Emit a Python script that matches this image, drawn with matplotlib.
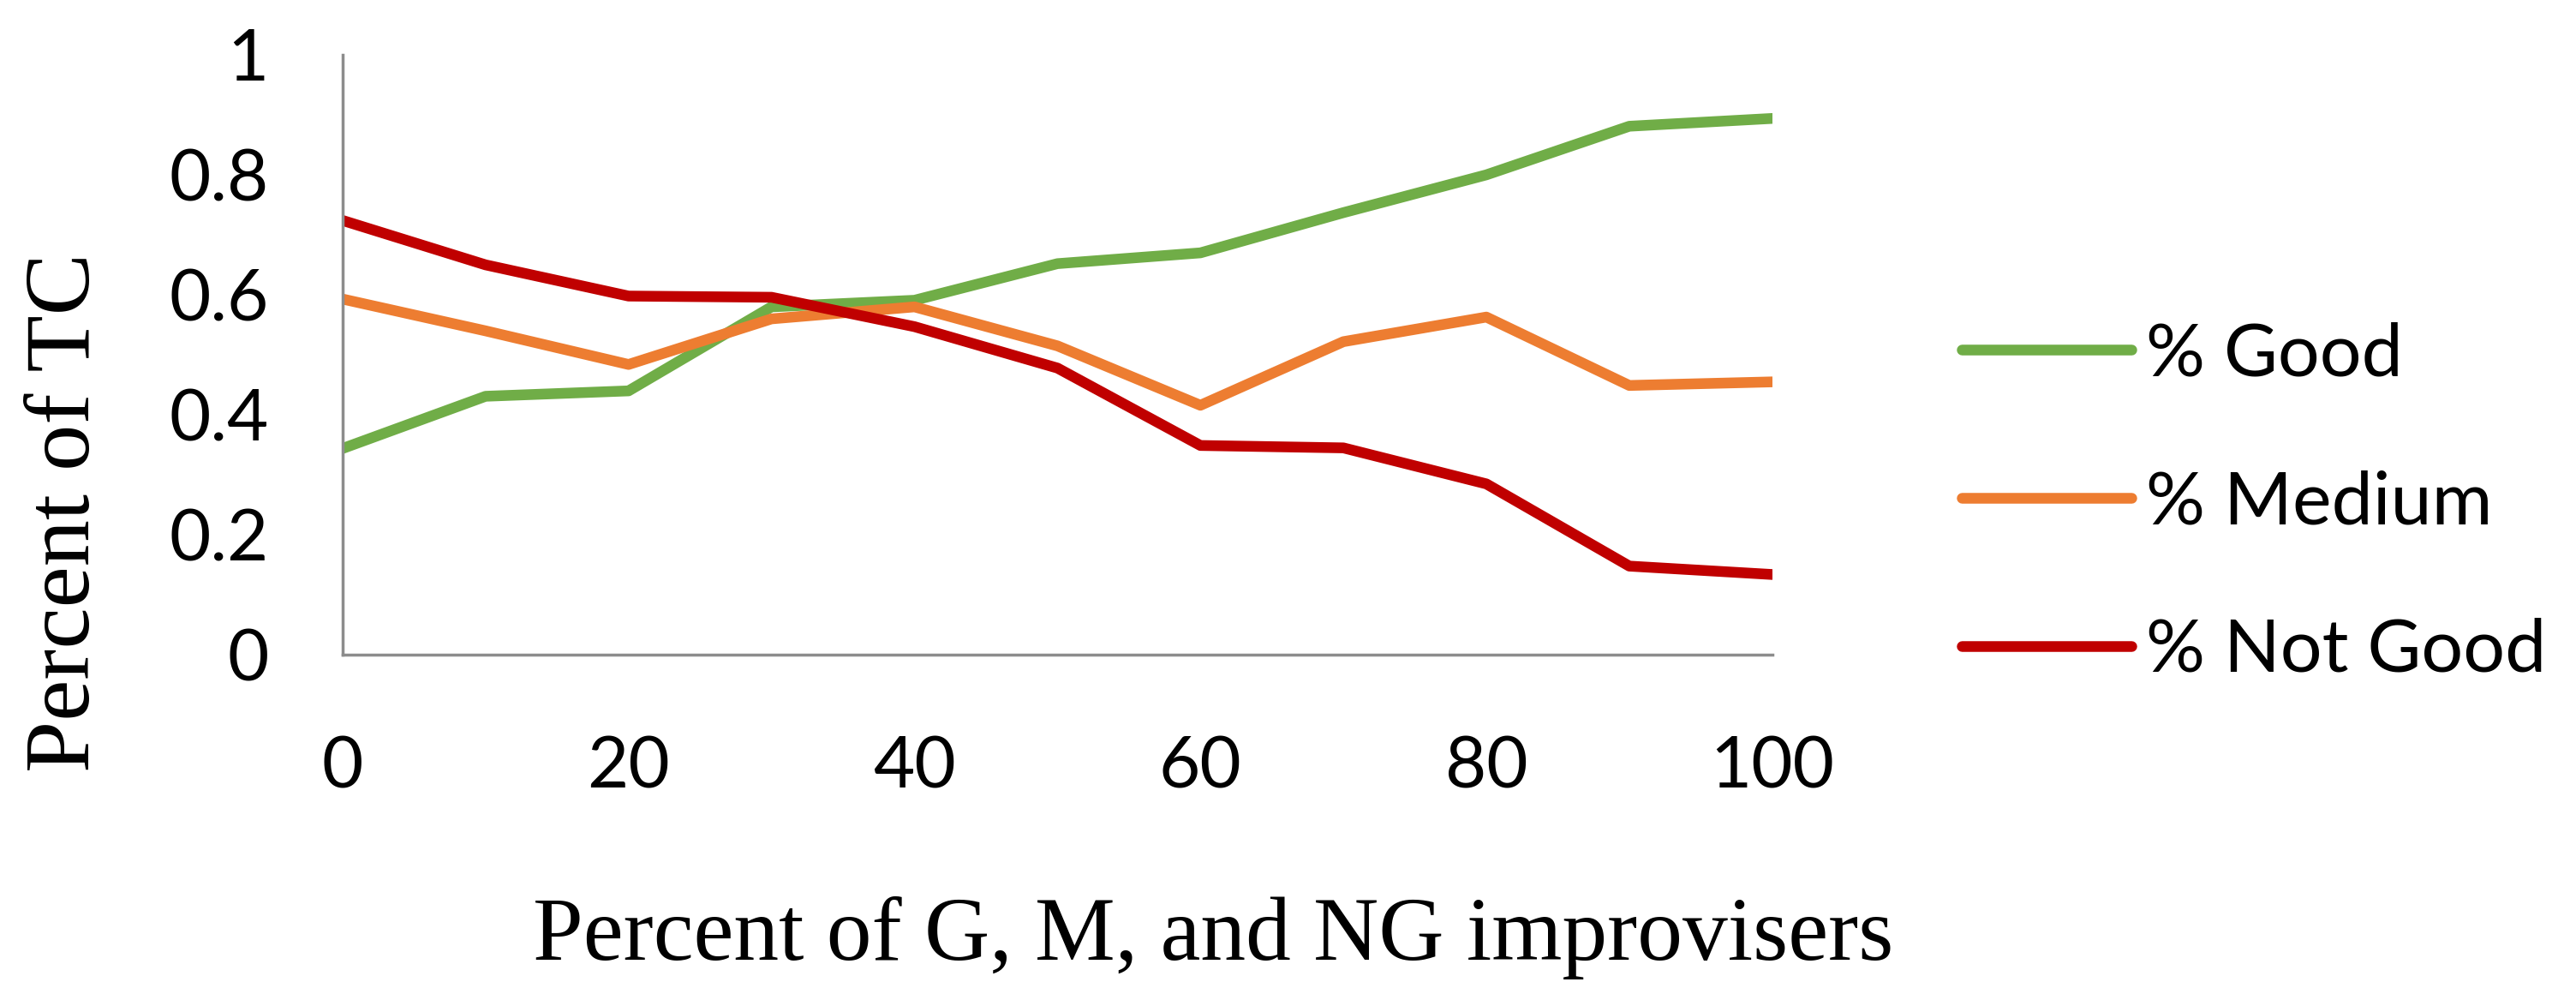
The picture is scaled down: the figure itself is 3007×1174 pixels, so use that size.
# Percent of TC vs percent of G, M and NG improvisers
import matplotlib
matplotlib.use('Agg')
import matplotlib.pyplot as plt

# data
pct_improvisers = [0, 10, 20, 30, 40, 50, 60, 70, 80, 90, 100]
good = [0.344, 0.431, 0.440, 0.580, 0.591, 0.652, 0.670, 0.737, 0.800, 0.881, 0.894]
medium = [0.593, 0.540, 0.484, 0.560, 0.580, 0.515, 0.416, 0.522, 0.563, 0.449, 0.455]
not_good = [0.724, 0.650, 0.598, 0.596, 0.547, 0.478, 0.349, 0.345, 0.285, 0.148, 0.134]

labels = ['% Good', '% Medium', '% Not Good']
colors = ['#70AD47', '#ED7D31', '#C00000']
x_ticks = [0, 20, 40, 60, 80, 100]
y_ticks = [0, 0.2, 0.4, 0.6, 0.8, 1]
y_tick_labels = ['0', '0.2', '0.4', '0.6', '0.8', '1']

sans = ['Lato', 'DejaVu Sans']
serif = ['Liberation Serif', 'DejaVu Serif']

fig = plt.figure(figsize=(30.07, 11.74), dpi=100)
ax = fig.add_axes([0.133, 0.349, 0.555, 0.5965])

for series, lab, col in zip([good, medium, not_good], labels, colors):
    ax.plot(pct_improvisers, series, color=col, linewidth=9, label=lab,
            solid_capstyle='round', solid_joinstyle='round')

ax.set_xlim(0, 100)
ax.set_ylim(0, 1)
ax.set_xticks(x_ticks)
ax.set_yticks(y_ticks)
ax.set_yticklabels(y_tick_labels)

for side in ['top', 'right']:
    ax.spines[side].set_visible(False)
for side in ['left', 'bottom']:
    ax.spines[side].set_color('#8c8c8c')
    ax.spines[side].set_linewidth(2.5)

ax.tick_params(axis='both', length=0, labelsize=60)
ax.tick_params(axis='y', pad=62)
ax.tick_params(axis='x', pad=68)
for t in ax.get_xticklabels() + ax.get_yticklabels():
    t.set_family(sans)

fig.text(0.471, 0.068, 'Percent of G, M, and NG improvisers',
         family=serif, fontsize=76, ha='center', va='center')
fig.text(0.026, 0.491, 'Percent of TC', family=serif, fontsize=78,
         rotation=90, ha='center', va='center')

fig.legend(loc='center left', bbox_to_anchor=(0.7615, 0.5), frameon=False,
           prop={'family': sans, 'size': 62}, handlelength=2.3,
           handletextpad=0.2, labelspacing=1.1, borderpad=0,
           borderaxespad=0)

fig.savefig('out.png', dpi=100, facecolor='white')
